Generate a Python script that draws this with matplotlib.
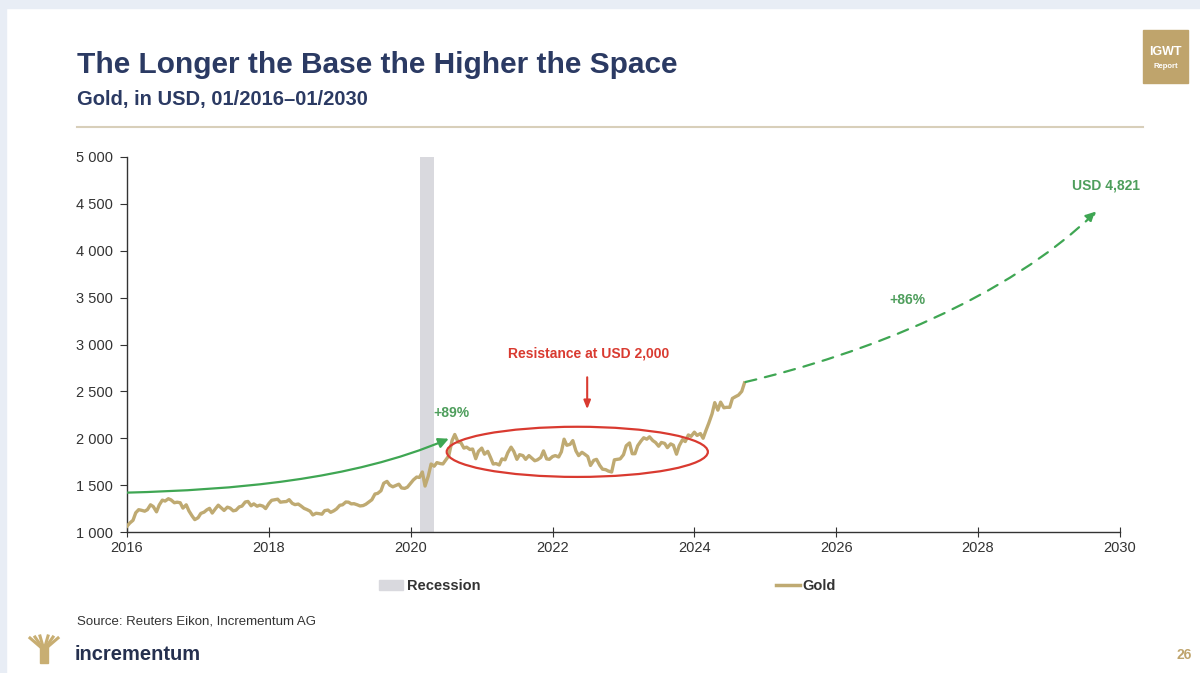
import matplotlib.pyplot as plt
import matplotlib.ticker as mticker
import matplotlib.dates as mdates
import numpy as np
import pandas as pd
from matplotlib.patches import Ellipse, Rectangle, FancyArrowPatch
from matplotlib.path import Path
from matplotlib.lines import Line2D

plt.rcParams['font.family'] = ['Liberation Sans', 'DejaVu Sans']

gold_dates = pd.date_range("2016-01-01", "2024-09-15", freq="SMS")
gold_usd = [
    # 2016
    1062, 1095, 1125, 1205, 1238, 1232, 1222, 1238, 1290, 1272, 1215, 1288,
    1340, 1330, 1355, 1342, 1312, 1318, 1312, 1255, 1290, 1225, 1172, 1132,
    # 2017
    1152, 1198, 1212, 1236, 1252, 1202, 1250, 1286, 1256, 1230, 1265, 1255,
    1226, 1232, 1268, 1276, 1320, 1326, 1280, 1300, 1275, 1286, 1276, 1250,
    # 2018
    1305, 1338, 1345, 1350, 1318, 1322, 1325, 1345, 1306, 1292, 1298, 1278,
    1252, 1240, 1222, 1182, 1200, 1196, 1190, 1228, 1234, 1210, 1226, 1246,
    # 2019
    1285, 1290, 1320, 1318, 1300, 1302, 1290, 1278, 1282, 1296, 1322, 1344,
    1405, 1412, 1440, 1520, 1540, 1500, 1482, 1495, 1510, 1470, 1465, 1478,
    # 2020
    1520, 1556, 1586, 1582, 1640, 1490, 1600, 1725, 1702, 1740, 1730, 1726,
    1772, 1812, 1975, 2040, 1960, 1955, 1895, 1905, 1880, 1885, 1782, 1860,
    # 2021
    1895, 1830, 1860, 1795, 1725, 1730, 1715, 1780, 1770, 1845, 1905, 1860,
    1775, 1825, 1815, 1775, 1815, 1790, 1760, 1770, 1795, 1865, 1780, 1775,
    # 2022
    1805, 1815, 1800, 1855, 1990, 1925, 1935, 1975, 1865, 1815, 1850, 1830,
    1805, 1710, 1765, 1775, 1710, 1670, 1665, 1650, 1640, 1770, 1775, 1780,
    # 2023
    1825, 1920, 1950, 1835, 1835, 1920, 1970, 2005, 1990, 2015, 1975, 1955,
    1915, 1955, 1945, 1900, 1940, 1925, 1830, 1920, 1985, 1965, 2035, 2020,
    # 2024
    2065, 2030, 2050, 2000, 2085, 2160, 2260, 2380, 2300, 2385, 2325, 2330,
    2330, 2425, 2445, 2460, 2500, 2590,
]

recession_start = pd.Timestamp("2020-02-20")
recession_end = pd.Timestamp("2020-04-30")

# green annotation curve (2016 -> mid 2020), bezier control points
arrow1_x = ["2016-01-01", "2017-07-01", "2019-03-01", "2020-07-15"]
arrow1_y = [1420, 1450, 1550, 1995]
# projection 2024 -> 2030
arrow2_x = ["2024-09-20", "2026-06-01", "2028-06-01", "2029-09-01"]
arrow2_y = [2600, 2900, 3500, 4420]

gold_c = "#BFAA72"
green = "#3FA653"
green_txt = "#4E9E5C"
red = "#D93A30"
navy = "#2B3A63"
text_c = "#333333"

fig = plt.figure(figsize=(12, 6.73), dpi=100)
fig.patch.set_facecolor("white")

# slide frame
fig.add_artist(Rectangle((0, 0), 0.005, 1, transform=fig.transFigure, color="#E8EDF5", zorder=0))
fig.add_artist(Rectangle((0, 0.988), 1, 0.012, transform=fig.transFigure, color="#E8EDF5", zorder=0))

ax = fig.add_axes([127 / 1200, 141 / 673, 993 / 1200, 375 / 673])

ax.axvspan(recession_start, recession_end, color="#D9D9DE", lw=0, zorder=1)
ax.plot(gold_dates, gold_usd, color=gold_c, lw=2.4, zorder=3)


def bezier(xs, ys, dashed=False):
    px = mdates.date2num([pd.Timestamp(x) for x in xs])
    pts = list(zip(px, ys))
    path = Path(pts, [Path.MOVETO, Path.CURVE4, Path.CURVE4, Path.CURVE4])
    arr = FancyArrowPatch(path=path, arrowstyle="-|>,head_length=6,head_width=3",
                          color=green, lw=1.6, linestyle=(0, (5, 4)) if dashed else "-",
                          zorder=4, transform=ax.transData)
    ax.add_patch(arr)


bezier(arrow1_x, arrow1_y)
bezier(arrow2_x, arrow2_y, dashed=True)

ell_c = mdates.date2num(pd.Timestamp("2022-05-08"))
ell = Ellipse((ell_c, 1855), width=1345, height=535, fill=False,
              edgecolor=red, lw=1.6, zorder=5)
ax.add_patch(ell)

ax.annotate("", xy=(pd.Timestamp("2022-06-28"), 2280), xytext=(pd.Timestamp("2022-06-28"), 2680),
            arrowprops=dict(arrowstyle="-|>,head_length=0.5,head_width=0.2", color=red, lw=1.5))
ax.text(pd.Timestamp("2022-07-05"), 2900, "Resistance at USD 2,000", color=red,
        fontsize=10, fontweight="bold", ha="center", va="center")
ax.text(pd.Timestamp("2020-07-30"), 2270, "+89%", color=green_txt, fontsize=10,
        fontweight="bold", ha="center", va="center")
ax.text(pd.Timestamp("2027-01-01"), 3475, "+86%", color=green_txt, fontsize=10,
        fontweight="bold", ha="center", va="center")
ax.text(pd.Timestamp("2029-10-20"), 4700, "USD 4,821", color=green_txt, fontsize=10,
        fontweight="bold", ha="center", va="center")

ax.set_xlim(pd.Timestamp("2016-01-01"), pd.Timestamp("2030-01-01"))
ax.set_ylim(1000, 5000)
ax.set_xticks([pd.Timestamp(f"{y}-01-01") for y in range(2016, 2031, 2)])
ax.set_xticklabels([str(y) for y in range(2016, 2031, 2)])
ax.set_yticks(np.arange(1000, 5001, 500))
ax.yaxis.set_major_formatter(mticker.FuncFormatter(lambda v, p: f"{int(v):,}".replace(",", " ")))
for s in ["top", "right"]:
    ax.spines[s].set_visible(False)
for s in ["left", "bottom"]:
    ax.spines[s].set_color("#333333")
    ax.spines[s].set_linewidth(1.0)
ax.tick_params(axis="y", direction="out", length=5, labelsize=10.5, colors=text_c, pad=5)
ax.tick_params(axis="x", direction="inout", length=7, labelsize=10.5, colors=text_c, pad=3)

# legend, one entry each
fig.legend([Rectangle((0, 0), 1, 1, color="#D9D9DE")], ["Recession"], loc="center",
           bbox_to_anchor=(430 / 1200, 1 - 586 / 673), frameon=False, handlelength=1.6,
           handletextpad=0.3, prop=dict(weight="bold", size=10.5), labelcolor=text_c)
fig.legend([Line2D([0], [0], color=gold_c, lw=2.5)], ["Gold"], loc="center",
           bbox_to_anchor=(806 / 1200, 1 - 586 / 673), frameon=False, handlelength=1.6,
           handletextpad=0.2, prop=dict(weight="bold", size=10.5), labelcolor=text_c)

# titles
fig.text(77 / 1200, 1 - 65 / 673, "The Longer the Base the Higher the Space", color=navy,
         fontsize=21.5, fontweight="bold", va="center")
fig.text(77 / 1200, 1 - 100 / 673, "Gold, in USD, 01/2016\u201301/2030", color=navy,
         fontsize=14.5, fontweight="bold", va="center")
fig.add_artist(Line2D([77 / 1200, 1143 / 1200], [1 - 127 / 673] * 2, color="#D8CFBA", lw=1.5))

# IGWT badge
fig.add_artist(Rectangle((1143 / 1200, 1 - 83 / 673), 45 / 1200, 53 / 673,
                         transform=fig.transFigure, color="#BFA46C"))
fig.text(1165.5 / 1200, 1 - 52 / 673, "IGWT", color="white", fontsize=9, fontweight="bold",
         ha="center", va="center")
fig.text(1165.5 / 1200, 1 - 66 / 673, "Report", color="white", fontsize=5.5, fontweight="bold",
         ha="center", va="center")

fig.text(77 / 1200, 1 - 622 / 673, "Source: Reuters Eikon, Incrementum AG", color=text_c,
         fontsize=9.5, va="center")

# footer logo (simple tree)
fig.add_artist(Rectangle((40 / 1200, 1 - 663 / 673), 8 / 1200, 17 / 673,
                         transform=fig.transFigure, color="#C8AE72"))
for dx, top in [(-14, 638), (-9, 637), (-4, 636), (4, 636), (9, 637), (14, 638)]:
    fig.add_artist(Line2D([44 / 1200, (44 + dx) / 1200], [1 - 650 / 673, 1 - top / 673],
                          color="#C8AE72", lw=2.2))
fig.text(75 / 1200, 1 - 655 / 673, "incrementum", color="#25304F", fontsize=14.5,
         fontweight="bold", va="center")
fig.text(1192 / 1200, 1 - 655 / 673, "26", color="#BFA46C", fontsize=10, fontweight="bold",
         ha="right", va="center")

fig.savefig("out.png", dpi=100)
